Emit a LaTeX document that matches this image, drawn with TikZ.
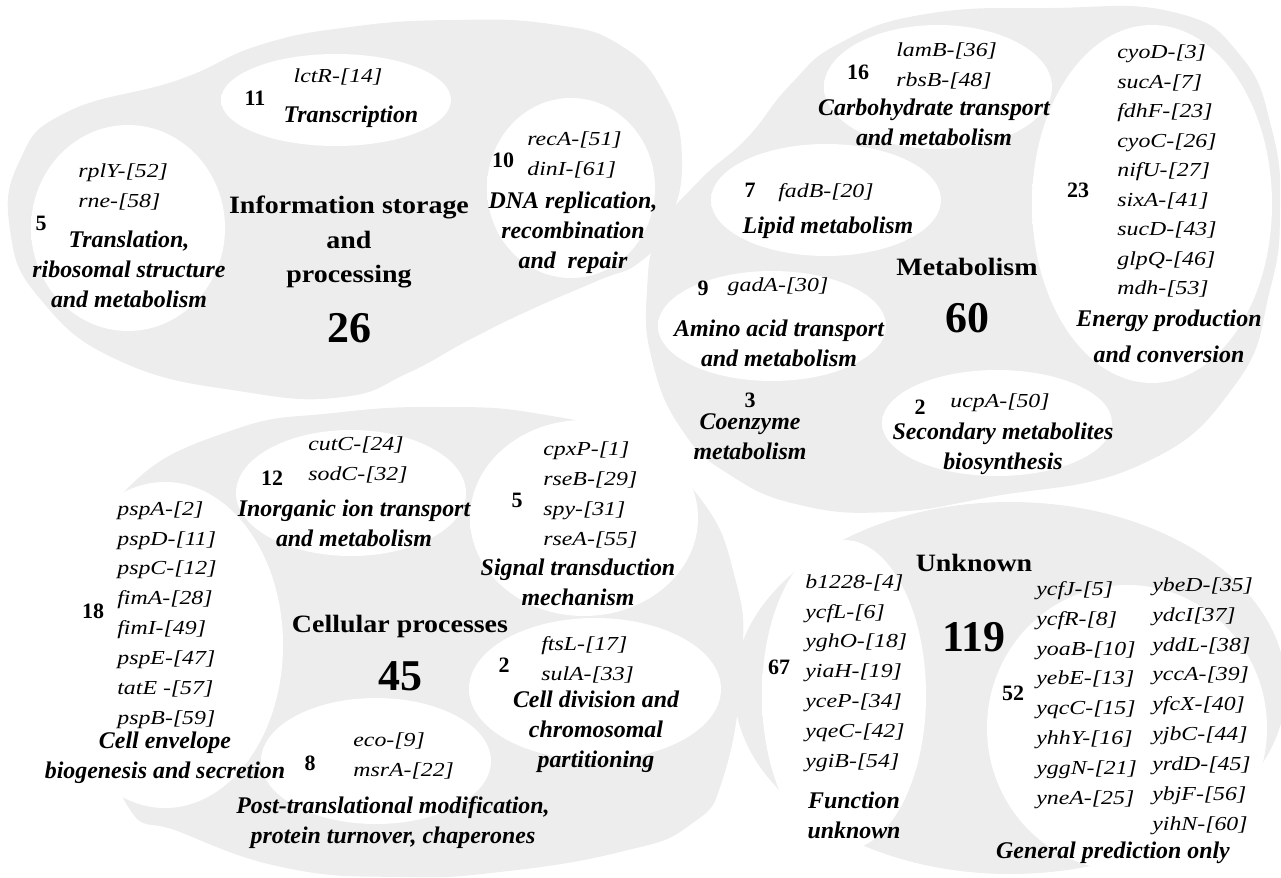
\documentclass[tikz,border=0pt]{standalone}
\usepackage{fontspec}
\setmainfont{Liberation Serif}
\newfontfamily\genefont{Liberation Serif}[FakeStretch=1.2]
\newfontfamily\labelfont{Liberation Serif}[FakeStretch=1.12]

% white bubble, darker towards its right rim
\pgfdeclareradialshading{crescent}{\pgfpoint{-14bp}{0bp}}{color(0bp)=(white); color(50bp)=(white); color(57bp)=(black!20); color(64bp)=(black!48)}

\begin{document}
\begin{tikzpicture}[x=0.02cm, y=-0.02cm,
    blob/.style={fill=black!7},
    bubble/.style={shading=crescent},
    gene/.style={font=\genefont\itshape\fontsize{11.3}{17}\selectfont, align=left, inner sep=0pt},
    cat/.style={font=\bfseries\itshape\fontsize{13.6}{17}\selectfont, align=center, inner sep=0pt},
    num/.style={font=\bfseries\fontsize{12.5}{15}\selectfont, inner sep=0pt},
    title/.style={font=\labelfont\bfseries\fontsize{14.2}{19.6}\selectfont, align=center, inner sep=0pt},
    total/.style={font=\bfseries\fontsize{25}{30}\selectfont, inner sep=0pt}]
    \useasboundingbox (0,0) rectangle (1281,878);

    % Grey groups
    \fill[blob] plot[smooth cycle, tension=0.8] coordinates {(10,230) (20,160) (67,112) (178,80) (260,45) (350,27) (450,20) (550,24) (620,45) (665,95) (682,160) (668,225) (640,262) (597,281) (530,310) (469,340) (408,373) (343,397) (245,392) (122,362) (41,300)};
    \fill[blob] plot[smooth cycle, tension=0.8] coordinates {(840,43) (926,14) (1050,8) (1173,12) (1240,55) (1272,130) (1280,210) (1270,290) (1235,385) (1140,465) (990,497) (890,512) (800,505) (730,475) (682,430) (652,360) (647,290) (660,230) (700,180) (747,138) (790,85)};
    \fill[blob] plot[smooth cycle, tension=0.8] coordinates {(133,483) (233,430) (333,413) (440,407) (540,414) (630,440) (700,498) (735,578) (742,660) (724,775) (690,825) (620,852) (500,872) (400,877) (286,868) (180,832) (127,805) (100,700) (100,560)};
    \fill[blob] (1010,688) ellipse [x radius=276, y radius=186];

    % Bubbles
    \shade[bubble] (336,100) ellipse [x radius=115, y radius=46];
    \shade[bubble] (128,228) ellipse [x radius=97, y radius=103];
    \shade[bubble] (571,188) ellipse [x radius=84, y radius=90];
    \shade[bubble] (938,87) ellipse [x radius=114, y radius=62];
    \shade[bubble] (826,200) ellipse [x radius=115, y radius=56];
    \shade[bubble] (772,326) ellipse [x radius=114, y radius=55];
    \shade[bubble] (1152,204) ellipse [x radius=120, y radius=179];
    \shade[bubble] (997,423) ellipse [x radius=115, y radius=53];
    \shade[bubble] (351,493) ellipse [x radius=115, y radius=63];
    \shade[bubble] (584,518) ellipse [x radius=114, y radius=98];
    \shade[bubble] (595,689) ellipse [x radius=126, y radius=71];
    \shade[bubble] (376,761) ellipse [x radius=115, y radius=63];
    \shade[bubble] (165,645) ellipse [x radius=118, y radius=163];
    \shade[bubble] (844,695) ellipse [x radius=82, y radius=155];
    \shade[bubble] (1127,728) ellipse [x radius=140, y radius=143];

    % Information storage and processing
    \node[gene] (lctr) at (338,77) {lctR-[14]};
    \node[num] (n11) at (255,98) {11};
    \node[cat] (transcr) at (351,117) {Transcription};
    \node[gene, anchor=west] (transl-genes) at (78,187) {rplY-[52]\\rne-[58]};
    \node[num] (n5a) at (41,223) {5};
    \node[cat] (transl) at (129,269) {Translation,\\ribosomal structure\\and metabolism};
    \node[gene, anchor=west] (dna-genes) at (527,155) {recA-[51]\\dinI-[61]};
    \node[num] (n10) at (503,160) {10};
    \node[cat] (dna) at (573,233) {DNA replication,\\recombination\\and\ \ repair};
    \node[title] (infolab) at (349,242) {Information storage\\and\\processing};
    \node[total, below of=infolab, node distance=1.72cm] (n26) {26};

    % Metabolism
    \node[num] (n16) at (858,72) {16};
    \node[gene, anchor=west] (carb-genes) at (896,66) {lamB-[36]\\rbsB-[48]};
    \node[cat] (carb) at (934,122) {Carbohydrate transport\\and metabolism};
    \node[num] (n7) at (750,190) {7};
    \node[gene] (fadb) at (826,193) {fadB-[20]};
    \node[cat] (lipid) at (828,228) {Lipid metabolism};
    \node[num] (n9) at (703,288) {9};
    \node[gene] (gada) at (778,287) {gadA-[30]};
    \node[cat] (amino) at (779,343) {Amino acid transport\\and metabolism};
    \node[num] (n3) at (750,400) {3};
    \node[cat] (coenz) at (750,437) {Coenzyme\\metabolism};
    \node[num] (n23) at (1078,190) {23};
    \node[gene, anchor=west, font=\genefont\itshape\fontsize{11.3}{16.8}\selectfont] (energy-genes) at (1117,171) {cyoD-[3]\\sucA-[7]\\fdhF-[23]\\cyoC-[26]\\nifU-[27]\\sixA-[41]\\sucD-[43]\\glpQ-[46]\\mdh-[53]};
    \node[cat] (energy) at (1169,336) {Energy production\\[3.4pt]and conversion};
    \node[num] (n2a) at (920,407) {2};
    \node[gene] (ucpa) at (1000,403) {ucpA-[50]};
    \node[cat] (second) at (1003,449) {Secondary metabolites\\biosynthesis};
    \node[title] (metlab) at (967,267) {Metabolism};
    \node[total, below of=metlab, node distance=1.02cm] (n60) {60};

    % Cellular processes
    \node[num] (n12) at (272,478) {12};
    \node[gene, anchor=west] (inorg-genes) at (308,460) {cutC-[24]\\sodC-[32]};
    \node[cat] (inorg) at (354,523) {Inorganic ion transport\\and metabolism};
    \node[num] (n5b) at (517,500) {5};
    \node[gene, anchor=west] (signal-genes) at (543,495) {cpxP-[1]\\rseB-[29]\\spy-[31]\\rseA-[55]};
    \node[cat] (signal) at (578,582) {Signal transduction\\mechanism};
    \node[num] (n2b) at (504,665) {2};
    \node[gene, anchor=west] (div-genes) at (541,660) {ftsL-[17]\\sulA-[33]};
    \node[cat] (div) at (596,732) {Cell division and\\chromosomal\\partitioning};
    \node[num] (n18) at (93,611) {18};
    \node[gene, anchor=west] (env-genes) at (117,615) {pspA-[2]\\pspD-[11]\\pspC-[12]\\fimA-[28]\\fimI-[49]\\pspE-[47]\\tatE -[57]\\pspB-[59]};
    \node[cat] (env) at (165,758) {Cell envelope\\biogenesis and secretion};
    \node[num] (n8) at (310,763) {8};
    \node[gene, anchor=west] (post-genes) at (353,756) {eco-[9]\\msrA-[22]};
    \node[cat] (post) at (393,823) {Post-translational modification,\\protein turnover, chaperones};
    \node[title] (cellab) at (400,626) {Cellular processes};
    \node[total, below of=cellab, node distance=1cm] (n45) {45};

    % Unknown
    \node[title] (unklab) at (974,563) {Unknown};
    \node[total, below of=unklab, node distance=1.48cm] (n119) {119};
    \node[num] (n67) at (779,667) {67};
    \node[gene, anchor=west] (func-genes) at (805,673) {b1228-[4]\\ycfL-[6]\\yghO-[18]\\yiaH-[19]\\yceP-[34]\\yqeC-[42]\\ygiB-[54]};
    \node[cat] (func) at (854,815) {Function\\unknown};
    \node[num] (n52) at (1013,693) {52};
    \node[gene, anchor=west] (gen-genes-a) at (1036,695) {ycfJ-[5]\\ycfR-[8]\\yoaB-[10]\\yebE-[13]\\yqcC-[15]\\yhhY-[16]\\yggN-[21]\\yneA-[25]};
    \node[gene, anchor=west] (gen-genes-b) at (1152,706) {ybeD-[35]\\ydcI[37]\\yddL-[38]\\yccA-[39]\\yfcX-[40]\\yjbC-[44]\\yrdD-[45]\\ybjF-[56]\\yihN-[60]};
    \node[cat] (gen) at (1113,853) {General prediction only};
\end{tikzpicture}
\end{document}
